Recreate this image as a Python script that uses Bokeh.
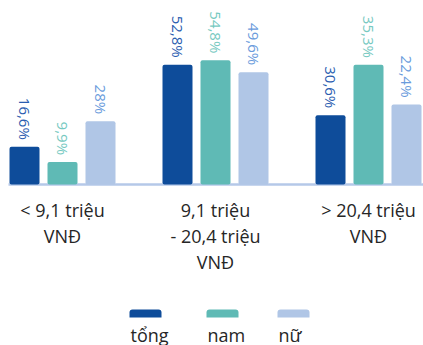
import math
from bokeh.plotting import figure
from bokeh.models import ColumnDataSource, Range1d
from bokeh.core.properties import value
from bokeh.embed import file_html
from bokeh.resources import INLINE

# ---- data ----
groups = ["< 9,1 triệu\nVNĐ", "9,1 triệu\n- 20,4 triệu\nVNĐ", "> 20,4 triệu\nVNĐ"]
series_names = ["tổng", "nam", "nữ"]
# bar heights as drawn in the picture
tong = [16.6, 52.8, 30.5]
nam = [9.9, 54.7, 52.7]
nu = [27.9, 49.5, 35.2]
# value labels as printed in the picture
tong_labels = ["16,6%", "52,8%", "30,6%"]
nam_labels = ["9,9%", "54,8%", "35,3%"]
nu_labels = ["28%", "49,6%", "22,4%"]

# ---- style ----
bar_colors = ["#0e4c9a", "#5fbab5", "#b0c6e6"]
label_colors = ["#2a5db0", "#76c9c1", "#6a9bdc"]
FONT = "Open Sans"

W, H = 423, 345
PITCH = 153.0        # px per group
X0PX = 62.0          # px of first group centre
BASE = 184.0         # px of baseline
PPU = 2.27           # px per percent


def X(px):
    return (px - X0PX) / PITCH


def Y(py):
    return (BASE - py) / PPU


p = figure(width=W, height=H, output_backend="svg", toolbar_location=None,
           x_range=Range1d(X(0), X(W)), y_range=Range1d(Y(H), Y(0)),
           min_border=0, outline_line_color=None)
p.axis.visible = False
p.grid.visible = False
p.background_fill_color = "white"

idx = list(range(len(groups)))
offsets = [-38 / PITCH, 0.0, 38 / PITCH]
bw = 30 / PITCH

# baseline
p.segment(x0=[X(8)], y0=[0], x1=[X(W)], y1=[0], line_color="#b5c8e8", line_width=2.5)

for vals, labs, off, bc, lc in zip([tong, nam, nu], [tong_labels, nam_labels, nu_labels],
                                   offsets, bar_colors, label_colors):
    xs = [i + off for i in idx]
    src = ColumnDataSource(dict(x=xs, top=vals, ly=[v + 7 / PPU for v in vals], lab=labs))
    p.vbar(x="x", top="top", bottom=0, width=bw, source=src, fill_color=bc,
           line_color=None, border_radius=2)
    p.text(x="x", y="ly", text="lab", source=src, angle=-math.pi / 2,
           text_align="right", text_baseline="middle", text_color=lc,
           text_font=value(FONT), text_font_size="15px")

# category labels
p.text(x=idx, y=[Y(197)] * 3, text=groups, text_align="center", text_baseline="top",
       text_font=value(FONT), text_font_size="18px", text_color="#262626",
       text_line_height=1.1)

# legend (swatch above label)
lefts = [129, 206, 277]
p.quad(left=[X(l) for l in lefts], right=[X(l + 32) for l in lefts],
       top=[Y(309)] * 3, bottom=[Y(317)] * 3, fill_color=bar_colors, line_color=None,
       border_radius=(3, 3, 0, 0))
p.text(x=[X(l + 1) for l in lefts], y=[Y(334)] * 3, text=series_names,
       text_align="left", text_baseline="alphabetic", text_font=value(FONT),
       text_font_size="18px", text_color="#262626")

open("out.html", "w").write(file_html(p, INLINE))
